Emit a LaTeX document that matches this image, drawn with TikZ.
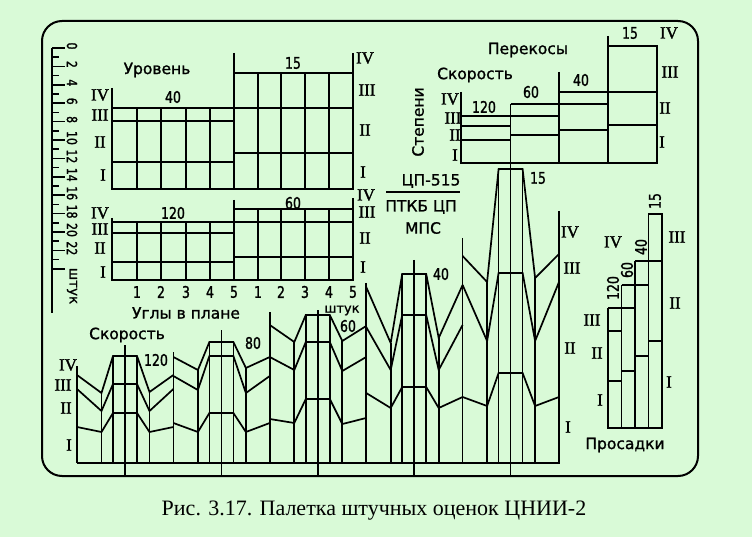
\documentclass[tikz,border=0pt]{standalone}
\usepackage{fontspec}
\setmainfont{Liberation Serif}
\newfontfamily\gostfont[FakeBold=1.2]{DejaVu Sans}
\newfontfamily\gostnum[FakeStretch=0.78,FakeBold=1.4]{DejaVu Sans}
\newfontfamily\degfont[FakeBold=1.6]{Liberation Serif}
\definecolor{paper}{RGB}{217,250,215}
\tikzset{
  ln/.style={line width=1.7pt},
  txt/.style={font=\gostfont\fontsize{15.5}{16}\selectfont, inner sep=0pt},
  num/.style={font=\gostnum\fontsize{16}{16}\selectfont, inner sep=0pt},
  snum/.style={font=\gostnum\fontsize{14}{14}\selectfont, inner sep=0pt, rotate=-90},
  vnum/.style={num, rotate=90},
  deg/.style={font=\degfont\fontsize{17}{17}\selectfont, inner sep=0pt}
}
\begin{document}
\begin{tikzpicture}[x=1pt,y=-1pt]
        % background and frame
        \fill[paper] (0,0) rectangle (752,537);
        \useasboundingbox (0,0) rectangle (752,537);
        \draw[line width=2pt,rounded corners=20pt] (42,21) rectangle (698,476);
        % draw scale
        \draw[ln] (52,48) -- (52,313);
        \foreach \j in {0,2,...,24}
        \draw[ln] (52,{48+9.2*\j}) -- (65,{48+9.2*\j});
        \foreach \j in {1,3,...,23}
        \draw[ln] (52,{48+9.2*\j}) -- (59,{48+9.2*\j});
        \foreach \v in {0,2,...,22}
        \node[snum] (sc\v) at (72,{46+9.2*\v}) {\v};
        \node[snum,font=\gostfont\fontsize{13.5}{14}\selectfont] (scu) at (72,286) {штук};
        % draw upper grid (Уровень)
        \draw[ln] (112,88) -- (112,189) -- (353,189) -- (353,53);
        \draw[ln] (234,53) -- (234,189);
        \draw[ln] (112,108) -- (353,108);
        \foreach \y in {121,162} \draw[ln] (112,\y) -- (234,\y);
        \foreach \y in {73,153} \draw[ln] (234,\y) -- (353,\y);
        \foreach \x in {137,161,186,210} \draw[ln] (\x,108) -- (\x,189);
        \foreach \x in {258,281,305,329} \draw[ln] (\x,73) -- (\x,189);
        % draw lower grid
        \draw[ln] (112,218) -- (112,280) -- (353,280) -- (353,198);
        \draw[ln] (234,200) -- (234,280);
        \foreach \y in {222,233,262} \draw[ln] (112,\y) -- (234,\y);
        \foreach \y in {209,222,257} \draw[ln] (234,\y) -- (353,\y);
        \foreach \x in {137,161,186,210} \draw[ln] (\x,222) -- (\x,280);
        \foreach \x in {258,281,305,329} \draw[ln] (\x,209) -- (\x,280);
        % draw angle numbers
        \foreach \x [count=\i] in {137,161,186,210,234}
        \node[num] (na\i) at (\x,292) {\i};
        \foreach \x [count=\i] in {258,281,305,329,353}
        \node[num] (nb\i) at (\x,292) {\i};
        \node[txt] (lvl) at (157,70) {Уровень};
        \node[txt] (ang) at (186,313) {Углы в плане};
        \node[num] (u40) at (173,97) {40};
        \node[num] (u15) at (293,63) {15};
        \node[num] (u120) at (173,213) {120};
        \node[num] (u60) at (293,203) {60};
        % draw skew grid (Перекосы)
        \draw[ln] (461,92) -- (461,163) -- (657,163) -- (657,46) -- (608,46);
        \draw[ln] (608,36) -- (608,163);
        \draw[ln] (559,72) -- (559,163);
        \draw[ln] (510.5,104) -- (510.5,163);
        \draw[ln] (461,116) -- (559,116);
        \foreach \y in {126,140} \draw[ln] (461,\y) -- (510.5,\y);
        \draw[ln] (510.5,104) -- (608,104);
        \draw[ln] (510.5,135) -- (559,135);
        \draw[ln] (559,92) -- (657,92);
        \draw[ln] (559,130) -- (608,130);
        \draw[ln] (608,125) -- (657,125);
        \node[txt] (skew) at (528,50) {Перекосы};
        \node[txt] (spdk) at (475,75) {Скорость};
        \node[txt,rotate=90] (stp) at (418,122) {Степени};
        \node[num] (k120) at (484,107) {120};
        \node[num] (k60) at (531,92) {60};
        \node[num] (k40) at (581,80) {40};
        \node[num] (k15) at (630,33) {15};
        % draw title
        \node[txt] (cpa) at (431,181) {ЦП-515};
        \draw[ln] (386,192) -- (460,192);
        \node[txt] (cpb) at (421,207) {ПТКБ ЦП};
        \node[txt] (cpc) at (423,228) {МПС};
        % draw speed profiles
        \foreach \k/\t/\c/\b/\f/\d in {0/366/345/393/356/392,1/352/330/370/342/368,
          2/312/310/342/315/341,3/283/260/343/274/338,4/238/163/282/169/278}{
        \draw[ln] ({77+96.4*\k},\t) -- ({77+96.4*\k},463);
        \draw[ln] ({125+96.4*\k},\c) -- ({125+96.4*\k},476);
        \draw[ln] ({101.5+96.4*\k},\b) -- ({101.5+96.4*\k},463);
        \draw[ln] ({113+96.4*\k},\f) -- ({113+96.4*\k},463);
        \draw[ln] ({137+96.4*\k},\f) -- ({137+96.4*\k},463);
        \draw[ln] ({149.5+96.4*\k},\d) -- ({149.5+96.4*\k},463);
        }
        \draw[ln] (559,211) -- (559,463) -- (77,463);
        \foreach \k/\a/\b/\c/\d/\e in {0/375/393/356/392/375,0/389/411/384/411/389,0/427/432/413/432/427,
          1/357/370/342/368/357,1/376/390/356/393/376,1/423/432/413/432/423,
          2/325/342/315/341/326,2/357/370/342/371/357,2/419/423/399/424/418,
          3/287/343/274/338/285,3/327/370/315/370/325,3/393/408/387/408/397,
          4/256/282/169/278/254,4/285/341/273/341/282,4/397/406/373/406/397}
        \draw[ln] ({77+96.4*\k},\a) -- ({101.5+96.4*\k},\b) -- ({113+96.4*\k},\c)
          -- ({137+96.4*\k},\c) -- ({149.5+96.4*\k},\d) -- ({173.4+96.4*\k},\e);
        \node[txt] (spd) at (127,335) {Скорость};
        \node[num] (s120) at (156,360) {120};
        \node[num] (s80) at (253,343) {80};
        \node[txt,font=\gostfont\fontsize{13}{14}\selectfont] (pcs) at (342,310.5) {штук};
        \node[num] (s60) at (348,326) {60};
        \node[num] (s40) at (441,274) {40};
        \node[num] (s15) at (538,178) {15};
        % draw sag grid (Просадки)
        \draw[ln] (608,308) -- (608,428) -- (662,428) -- (662,214) -- (648.5,214) -- (648.5,428);
        \draw[ln] (621.5,285) -- (621.5,428);
        \draw[ln] (635,261) -- (635,428);
        \draw[ln] (608,308) -- (635,308);
        \draw[ln] (621.5,285) -- (648.5,285);
        \draw[ln] (635,261) -- (662,261);
        \draw[ln] (608,331) -- (621.5,331);
        \draw[ln] (608,381) -- (621.5,381);
        \draw[ln] (621.5,371) -- (635,371);
        \draw[ln] (635,356) -- (648.5,356);
        \draw[ln] (648.5,341) -- (662,341);
        \node[vnum] (p120) at (613,288) {120};
        \node[vnum] (p60) at (627,270) {60};
        \node[vnum] (p40) at (641,247) {40};
        \node[vnum] (p15) at (655,201) {15};
        \node[txt] (sag) at (625,445) {Просадки};
        % draw degree labels
        \foreach \t/\x/\y [count=\i] in {IV/100/95,III/100/115,II/100/142,I/103/175,
          IV/365/58,III/367/90,II/365/130,I/363/172,
          IV/100/213,III/100/229,II/100/248,I/103/272,
          IV/366/195,III/367/212,II/365/238,I/363/267,
          IV/450/99,III/453/118,II/455/135,I/455/155,
          IV/669/33,III/670/72,II/665/108,I/662/142,
          IV/68/365,III/63/385,II/66/408,I/69/445,
          IV/570/232,III/572/268,II/570/348,I/568/427,
          IV/613/242,III/592/320,II/597/353,I/600/400,
          III/677/237,II/675/303,I/669/382}
        \node[deg] (r\i) at (\x,\y) {\t};
        % draw caption
        \node[font=\fontsize{22}{23}\selectfont,inner sep=0pt,anchor=base] (cap) at (374,515) {Рис. 3.17. Палетка штучных оценок ЦНИИ-2};
\end{tikzpicture}
\end{document}
